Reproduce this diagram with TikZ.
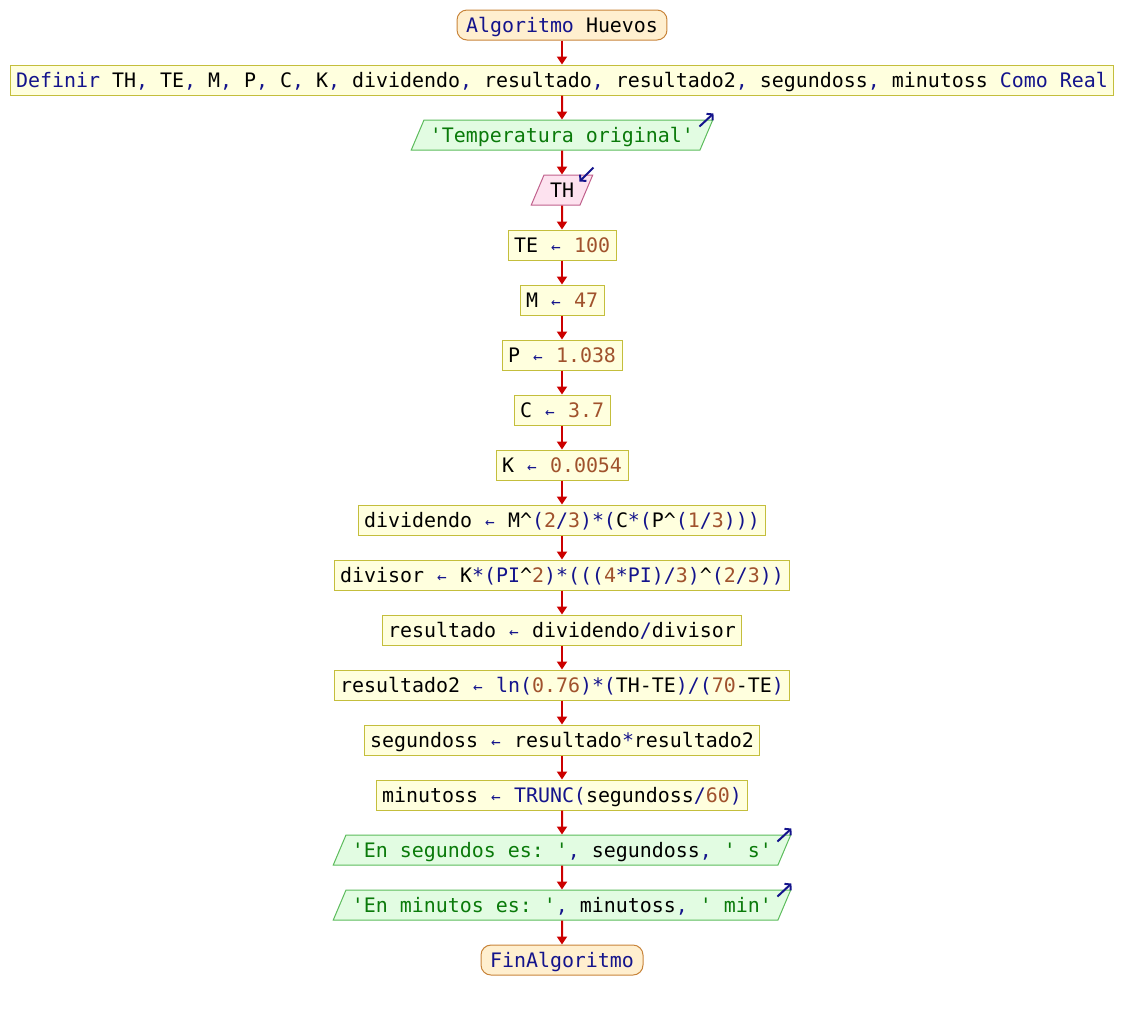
\documentclass[tikz,border=0pt]{standalone}
\usepackage{fontspec}
\setmonofont{DejaVu Sans Mono}
\usetikzlibrary{positioning,shapes.geometric,arrows.meta}
\definecolor{kwblue}{HTML}{14148C}
\definecolor{numbrown}{HTML}{A0522D}
\definecolor{strgreen}{HTML}{0A7A0A}
\definecolor{flowred}{HTML}{CC0000}
\definecolor{procfill}{HTML}{FFFFDE}
\definecolor{procdraw}{HTML}{C4BE3C}
\definecolor{termfill}{HTML}{FFEFCF}
\definecolor{termdraw}{HTML}{C8843A}
\definecolor{outfill}{HTML}{E2FCE2}
\definecolor{outdraw}{HTML}{5CBC5C}
\definecolor{infill}{HTML}{FDE2EF}
\definecolor{indraw}{HTML}{C0608C}
\newcommand{\kw}[1]{\textcolor{kwblue}{#1}}
\newcommand{\nm}[1]{\textcolor{numbrown}{#1}}
\newcommand{\cad}[1]{\textcolor{strgreen}{#1}}
\newcommand{\asig}{\makebox[12pt]{\fontsize{16}{16}\selectfont\kw{←}}}
\begin{document}
\begin{tikzpicture}[x=1pt,y=-1pt,
	every node/.style={font=\ttfamily\fontsize{19.93}{24}\selectfont,
		text height=14.5pt, text depth=0pt, inner ysep=7.75pt, inner xsep=6pt,
		line width=1pt},
	terminal/.style={draw=termdraw, fill=termfill, rounded corners=10pt, inner xsep=9pt},
	proc/.style={draw=procdraw, fill=procfill},
	salida/.style={shape=trapezium, trapezium left angle=67, trapezium right angle=113,
		draw=outdraw, fill=outfill},
	entrada/.style={shape=trapezium, trapezium left angle=67, trapezium right angle=113,
		draw=indraw, fill=infill},
	flow/.style={draw=flowred, line width=2pt, -{Triangle[length=8pt,width=10pt]}},
	ioarrow/.style={draw=kwblue, line width=2pt, -{Straight Barb[length=4pt,width=9pt]}}]
	\useasboundingbox (0,0) rectangle (1124,1010);
	\node[terminal] (inicio) at (562,25) {\kw{Algoritmo} Huevos};
	\node[proc, below=24pt of inicio] (definir) {\kw{Definir} TH\kw{,} TE\kw{,} M\kw{,} P\kw{,} C\kw{,} K\kw{,} dividendo\kw{,} resultado\kw{,} resultado2\kw{,} segundoss\kw{,} minutoss \kw{Como Real}};
	\node[salida, below=24pt of definir] (escTemp) {\cad{'Temperatura original'}};
	\node[entrada, below=24pt of escTemp] (leerTH) {TH};
	\node[proc, below=24pt of leerTH] (asigTE) {TE \asig{} \nm{100}};
	\node[proc, below=24pt of asigTE] (asigM) {M \asig{} \nm{47}};
	\node[proc, below=24pt of asigM] (asigP) {P \asig{} \nm{1.038}};
	\node[proc, below=24pt of asigP] (asigC) {C \asig{} \nm{3.7}};
	\node[proc, below=24pt of asigC] (asigK) {K \asig{} \nm{0.0054}};
	\node[proc, below=24pt of asigK] (asigDividendo) {dividendo \asig{} M\textasciicircum\kw{(}\nm{2}\kw{/}\nm{3}\kw{)*(}C\kw{*(}P\textasciicircum\kw{(}\nm{1}\kw{/}\nm{3}\kw{)))}};
	\node[proc, below=24pt of asigDividendo] (asigDivisor) {divisor \asig{} K\kw{*(PI}\textasciicircum\nm{2}\kw{)*(((}\nm{4}\kw{*PI)/}\nm{3}\kw{)}\textasciicircum\kw{(}\nm{2}\kw{/}\nm{3}\kw{))}};
	\node[proc, below=24pt of asigDivisor] (asigResultado) {resultado \asig{} dividendo\kw{/}divisor};
	\node[proc, below=24pt of asigResultado] (asigResultado2) {resultado2 \asig{} \kw{ln(}\nm{0.76}\kw{)*(}TH-TE\kw{)/(}\nm{70}-TE\kw{)}};
	\node[proc, below=24pt of asigResultado2] (asigSegundos) {segundoss \asig{} resultado\kw{*}resultado2};
	\node[proc, below=24pt of asigSegundos] (asigMinutos) {minutoss \asig{} \kw{TRUNC(}segundoss\kw{/}\nm{60}\kw{)}};
	\node[salida, below=24pt of asigMinutos] (escSegundos) {\cad{'En segundos es: '}\kw{,} segundoss\kw{,} \cad{' s'}};
	\node[salida, below=24pt of escSegundos] (escMinutos) {\cad{'En minutos es: '}\kw{,} minutoss\kw{,} \cad{' min'}};
	\node[terminal, below=24pt of escMinutos] (fin) {\kw{FinAlgoritmo}};
	% flechas del flujo
	\draw[flow] (inicio) -- (definir);
	\draw[flow] (definir) -- (escTemp);
	\draw[flow] (escTemp) -- (leerTH);
	\draw[flow] (leerTH) -- (asigTE);
	\draw[flow] (asigTE) -- (asigM);
	\draw[flow] (asigM) -- (asigP);
	\draw[flow] (asigP) -- (asigC);
	\draw[flow] (asigC) -- (asigK);
	\draw[flow] (asigK) -- (asigDividendo);
	\draw[flow] (asigDividendo) -- (asigDivisor);
	\draw[flow] (asigDivisor) -- (asigResultado);
	\draw[flow] (asigResultado) -- (asigResultado2);
	\draw[flow] (asigResultado2) -- (asigSegundos);
	\draw[flow] (asigSegundos) -- (asigMinutos);
	\draw[flow] (asigMinutos) -- (escSegundos);
	\draw[flow] (escSegundos) -- (escMinutos);
	\draw[flow] (escMinutos) -- (fin);
	% marcas de entrada y salida
	\draw[ioarrow] ([shift={(-14,7)}]escTemp.top right corner) -- ([shift={(0,-6)}]escTemp.top right corner);
	\draw[ioarrow] ([shift={(-14,7)}]escSegundos.top right corner) -- ([shift={(0,-6)}]escSegundos.top right corner);
	\draw[ioarrow] ([shift={(-14,7)}]escMinutos.top right corner) -- ([shift={(0,-6)}]escMinutos.top right corner);
	\draw[ioarrow] ([shift={(0,-7)}]leerTH.top right corner) -- ([shift={(-14,7)}]leerTH.top right corner);
\end{tikzpicture}
\end{document}
